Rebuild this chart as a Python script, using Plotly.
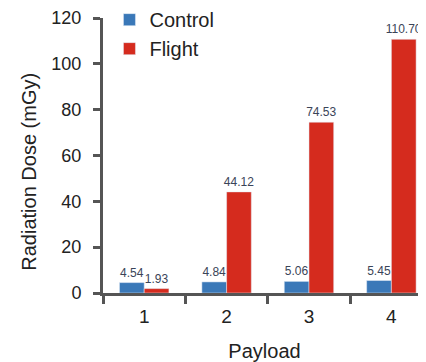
import plotly.graph_objects as go

payloads = ["1", "2", "3", "4"]
control = [4.54, 4.84, 5.06, 5.45]
flight = [1.93, 44.12, 74.53, 110.70]
control_labels = ["4.54", "4.84", "5.06", "5.45"]
flight_labels = ["1.93", "44.12", "74.53", "110.70"]

FONT = "Liberation Sans, Arial, sans-serif"
AX = "#555555"
LBL = "#3a4458"

fig = go.Figure()
fig.add_trace(go.Bar(x=payloads, y=control, name="Control", marker_color="#3a78b8",
                     text=control_labels, textposition="outside", cliponaxis=False,
                     constraintext="none",
                     textfont=dict(size=12, color=LBL, family=FONT)))
fig.add_trace(go.Bar(x=payloads, y=flight, name="Flight", marker_color="#d52b1e",
                     text=flight_labels, textposition="outside", cliponaxis=False,
                     constraintext="none",
                     textfont=dict(size=12, color=LBL, family=FONT)))

# page body adds an 8px offset, so the figure is sized to 418x354
fig.update_layout(
    width=418, height=354,
    margin=dict(l=95, r=0, t=10, b=69, autoexpand=False),
    paper_bgcolor="white", plot_bgcolor="white",
    barmode="group", bargap=0.4, bargroupgap=0,
    font=dict(family=FONT, color="#222"),
    showlegend=True,
    legend=dict(x=0.02, y=1.065, xanchor="left", yanchor="top",
                font=dict(size=20, family=FONT, color="#222"),
                bgcolor="rgba(0,0,0,0)", itemwidth=30, tracegroupgap=0),
    xaxis=dict(type="category", range=[-0.5, 3.42], tickson="boundaries",
               ticks="outside", ticklen=8, tickwidth=3, tickcolor=AX,
               showline=True, linewidth=3, linecolor=AX, showgrid=False,
               ticklabelstandoff=4,
               tickfont=dict(size=19, family=FONT, color="#222"),
               title=dict(text="Payload", font=dict(size=20, family=FONT, color="#222"), standoff=20)),
    yaxis=dict(range=[0, 120], tickvals=[0, 20, 40, 60, 80, 100, 120],
               ticks="outside", ticklen=7, tickwidth=3, tickcolor=AX,
               showline=True, linewidth=3, linecolor=AX, showgrid=False, zeroline=False,
               ticklabelstandoff=8,
               tickfont=dict(size=18, family=FONT, color="#222")),
    annotations=[dict(text="Radiation Dose (mGy)", textangle=-90, showarrow=False,
                      xref="paper", yref="paper", x=-0.23, y=0.44,
                      xanchor="center", yanchor="middle",
                      font=dict(size=20, family=FONT, color="#222"))],
)

fig.write_html("out.html")
